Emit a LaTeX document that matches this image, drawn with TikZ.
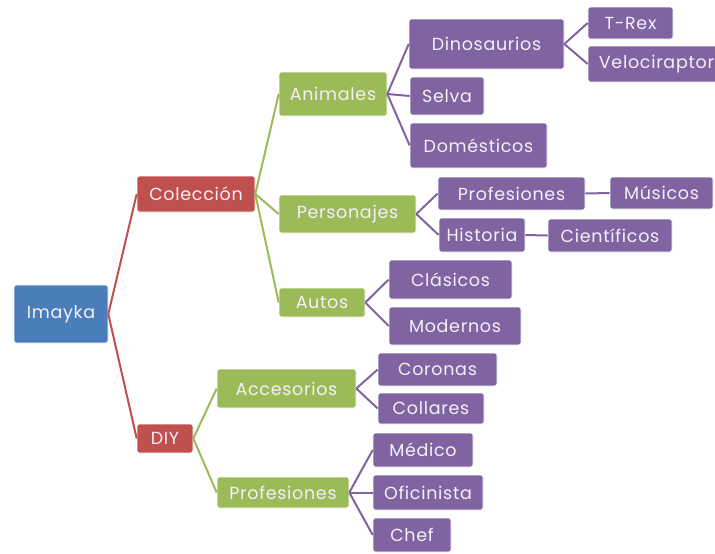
\documentclass[tikz,border=0pt]{standalone}
\usepackage{fontspec}
\setmainfont{Poppins}[LetterSpace=4]
\definecolor{cblue}{HTML}{4A7EBB}
\definecolor{cred}{HTML}{C0504D}
\definecolor{cgreen}{HTML}{9BBB59}
\definecolor{cpurple}{HTML}{8064A2}
\definecolor{ctext}{HTML}{F4F0FA}
\begin{document}
\begin{tikzpicture}[x=1pt,y=-1pt,
  bx/.style={rectangle, rounded corners=2.5pt, text=ctext, inner sep=0pt,
     font=\fontsize{17.5}{19}\selectfont, draw=white, line width=0.6pt},
  lv1/.style={bx, fill=cblue},
  lv2/.style={bx, fill=cred},
  lv3/.style={bx, fill=cgreen},
  lv4/.style={bx, fill=cpurple},
  sz/.style 2 args={minimum width=#1pt, minimum height=#2pt},
  lnred/.style={draw=cred, line width=2pt},
  lngreen/.style={draw=cgreen, line width=2pt},
  lnpurple/.style={draw=cpurple, line width=2pt}]
\useasboundingbox (0,0) rectangle (715,554);
\clip (0,0) rectangle (715,554);
% level 1
\node[lv1, sz={94}{58}] (imayka) at (61,314) {Imayka};
% level 2
\node[lv2, sz={118}{36}] (coleccion) at (196,194) {Colección};
\node[lv2, sz={56}{29}] (diy) at (165,438.5) {DIY};
% level 3
\node[lv3, sz={108}{44}] (animales) at (333,94) {Animales};
\node[lv3, sz={137}{38}] (personajes) at (347.5,214) {Personajes};
\node[lv3, sz={86}{29}] (autos) at (322,302.5) {Autos};
\node[lv3, sz={139}{39}] (accesorios) at (286.5,388.5) {Accesorios};
\node[lv3, sz={132}{31}] (profdiy) at (283,492.5) {Profesiones};
% level 4
\node[lv4, sz={155}{50}] (dino) at (486.5,44) {Dinosaurios};
\node[lv4, sz={74}{38}] (selva) at (447,96) {Selva};
\node[lv4, sz={137}{45}] (domesticos) at (478.5,145.5) {Domésticos};
\node[lv4, sz={147}{33}] (profpers) at (511.5,193.5) {Profesiones};
\node[lv4, sz={86}{34}] (historia) at (482,235) {Historia};
\node[lv4, sz={123}{39}] (clasicos) at (450.5,279.5) {Clásicos};
\node[lv4, sz={132}{38}] (modernos) at (455,326) {Modernos};
\node[lv4, sz={119}{33}] (coronas) at (437.5,369.5) {Coronas};
\node[lv4, sz={106}{31}] (collares) at (431,408.5) {Collares};
\node[lv4, sz={100}{34}] (medico) at (423,450) {Médico};
\node[lv4, sz={110}{35}] (oficinista) at (428,492.5) {Oficinista};
\node[lv4, sz={78}{34}] (chef) at (412,535) {Chef};
% level 5
\node[lv4, sz={85}{32}] (trex) at (630.5,23) {T-Rex};
\node[lv4, sz={137}{36}] (veloci) at (656.5,64) {Velociraptor};
\node[lv4, sz={103}{32}] (musicos) at (661.5,193) {Músicos};
\node[lv4, sz={124}{33}] (cientificos) at (610,235.5) {Científicos};
% connectors
\draw[lnred] (imayka.east) -- (coleccion.west);
\draw[lnred] (imayka.east) -- (diy.west);
\draw[lngreen] (coleccion.east) -- (animales.west);
\draw[lngreen] (coleccion.east) -- (personajes.west);
\draw[lngreen] (coleccion.east) -- (autos.west);
\draw[lngreen] (diy.east) -- (accesorios.west);
\draw[lngreen] (diy.east) -- (profdiy.west);
\draw[lnpurple] (animales.east) -- (dino.west);
\draw[lnpurple] (animales.east) -- (selva.west);
\draw[lnpurple] (animales.east) -- (domesticos.west);
\draw[lnpurple] (personajes.east) -- (profpers.west);
\draw[lnpurple] (personajes.east) -- (historia.west);
\draw[lnpurple] (autos.east) -- (clasicos.west);
\draw[lnpurple] (autos.east) -- (modernos.west);
\draw[lnpurple] (accesorios.east) -- (coronas.west);
\draw[lnpurple] (accesorios.east) -- (collares.west);
\draw[lnpurple] (profdiy.east) -- (medico.west);
\draw[lnpurple] (profdiy.east) -- (oficinista.west);
\draw[lnpurple] (profdiy.east) -- (chef.west);
\draw[lnpurple] (dino.east) -- (trex.west);
\draw[lnpurple] (dino.east) -- (veloci.west);
\draw[lnpurple] (profpers.east) -- (musicos.west);
\draw[lnpurple] (historia.east) -- (cientificos.west);
\end{tikzpicture}
\end{document}
